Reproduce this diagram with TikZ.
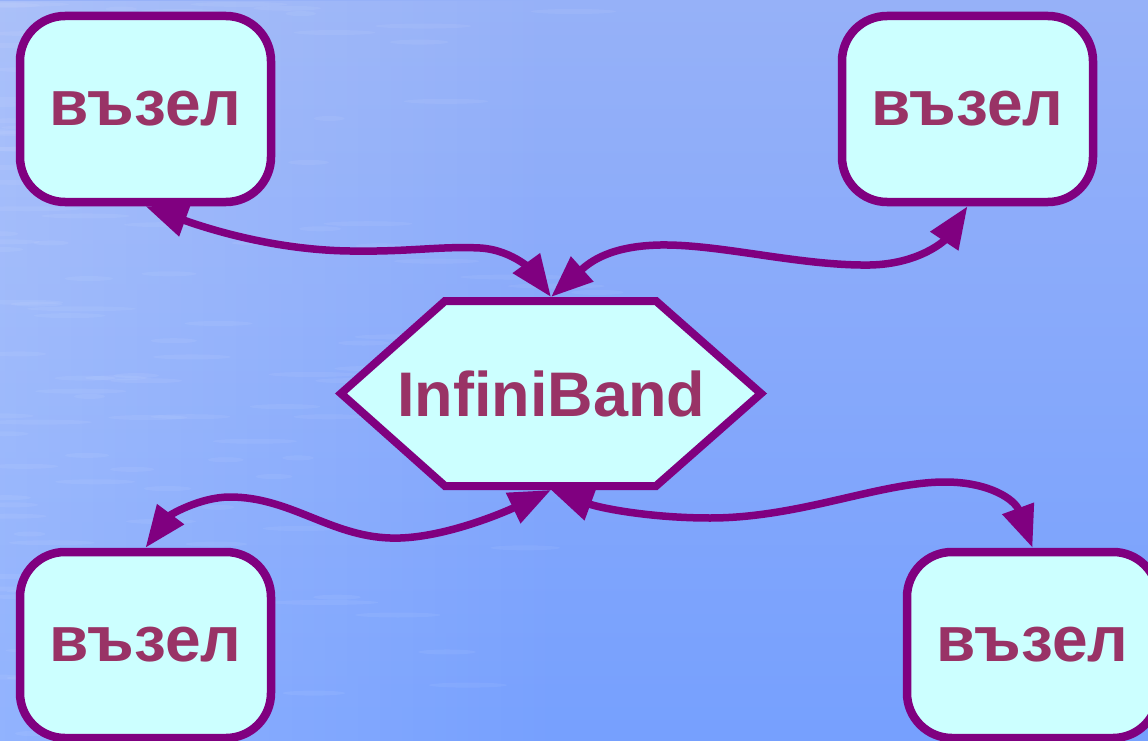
\documentclass[tikz,border=0pt]{standalone}
\usepackage{fontspec}
\setmainfont{Liberation Sans}
\usetikzlibrary{arrows.meta,fadings,calc}

\definecolor{boxfill}{HTML}{CCFFFF}
\definecolor{edgec}{HTML}{800080}
\definecolor{labelc}{HTML}{993366}
\definecolor{seatop}{HTML}{96B1F8}
\definecolor{seabot}{HTML}{76A0FE}

\tikzset{
  nodebox/.style={draw=edgec, fill=boxfill, line width=8.5pt, rounded corners=45pt,
    minimum width=251pt, minimum height=186pt, inner sep=0pt,
    text=labelc, font=\fontsize{64}{70}\selectfont\bfseries},
  hexlabel/.style={inner sep=0pt, text=labelc, font=\fontsize{63}{70}\selectfont\bfseries},
  hexedge/.style={draw=edgec, fill=boxfill, line width=8pt, line join=miter},
  link/.style={draw=edgec, line width=7.5pt,
    {Triangle[length=42pt,width=32pt]}-{Triangle[length=42pt,width=32pt]}},
  ripple/.style={fill=white, opacity=0.06},
}

\begin{document}
\begin{tikzpicture}[x=1pt,y=-1pt]
  \useasboundingbox (0,0) rectangle (1148,741);
  \clip (0,0) rectangle (1148,741);

  % water-blue backdrop, lighter towards the left, with soft ripples
  \shade[top color=seatop, bottom color=seabot] (0,0) rectangle (1148,741);
  \fill[white, opacity=0.20, path fading=east] (0,0) rectangle (560,741);
  \pgfmathsetseed{11}
  \foreach \k in {1,...,140} {
    \pgfmathsetmacro{\rx}{abs(rnd*rnd)*700}
    \pgfmathsetmacro{\ry}{rnd*741}
    \pgfmathsetmacro{\rw}{15+rnd*40}
    \fill[ripple] (\rx,\ry) ellipse [x radius=\rw, y radius=2.5];
  }

  % central switch fabric
  \coordinate (ibc) at (551,393.5);
  \filldraw[hexedge] ($(ibc)+(-210,0)$) -- ($(ibc)+(-106,-92.5)$) -- ($(ibc)+(105,-92.5)$)
      -- ($(ibc)+(210,0)$) -- ($(ibc)+(105,92.5)$) -- ($(ibc)+(-106,92.5)$) -- cycle;
  \node[hexlabel] (ib) at (ibc) {InfiniBand};
  \coordinate (ibtop) at (551,297);
  \coordinate (ibbot) at (551,490);

  % compute nodes
  \node[nodebox] (tl) at (145.5,109) {възел};
  \node[nodebox] (tr) at (967.5,109) {възел};
  \node[nodebox] (bl) at (145.5,645) {възел};
  \node[nodebox] (br) at (1032.5,645) {възел};

  % links
  \draw[link] (tl.south) .. controls (200,226) and (270,250) .. (350,251)
      .. controls (410,252) and (440,246) .. (480,248)
      .. controls (515,250) and (535,275) .. (ibtop);
  \draw[link] (ibtop) .. controls (590,262) and (610,246) .. (660,245)
      .. controls (720,244) and (800,266) .. (870,265)
      .. controls (920,264) and (945,240) .. (tr.south);
  \draw[link] (ibbot) .. controls (505,512) and (440,540) .. (390,538)
      .. controls (330,536) and (290,497) .. (230,497)
      .. controls (200,497) and (170,515) .. (bl.north);
  \draw[link] (ibbot) .. controls (600,508) and (650,518) .. (710,518)
      .. controls (800,518) and (880,482) .. (945,482)
      .. controls (990,482) and (1015,500) .. (br.north);
\end{tikzpicture}
\end{document}
